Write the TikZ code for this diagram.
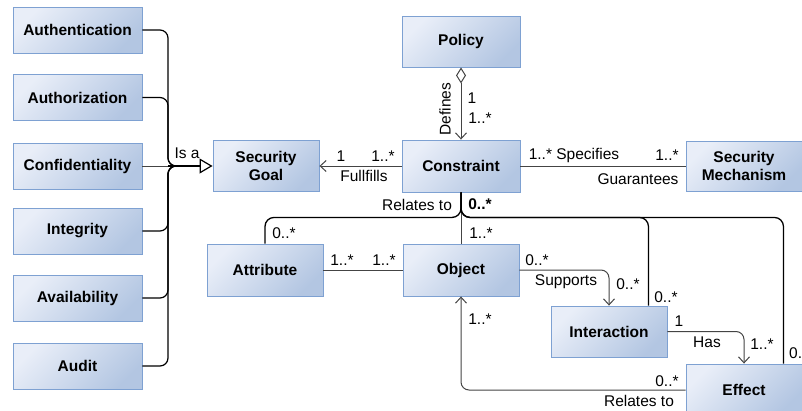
\documentclass[tikz,border=0pt]{standalone}
\usepackage{fontspec}
\setmainfont{Liberation Sans}
\usetikzlibrary{arrows.meta,calc}
\definecolor{bfillA}{HTML}{E9EEF8}
\definecolor{bfillB}{HTML}{B3C6E2}
\definecolor{bdraw}{HTML}{7EA1D2}
\definecolor{lgray}{HTML}{444444}
\begin{document}
\begin{tikzpicture}[x=1pt,y=-1pt,
  box/.style={draw=bdraw,line width=0.9pt,top color=bfillA,bottom color=bfillB,shading angle=45,
    minimum width=116pt,minimum height=51pt,inner sep=0pt,align=center,
    font=\fontsize{15.5}{18}\selectfont\bfseries},
  sbox/.style={box,minimum width=129pt,minimum height=46pt},
  lbl/.style={inner sep=0pt,font=\fontsize{15.5}{18}\selectfont},
  assoc/.style={draw=lgray,line width=1pt,rounded corners=8pt},
  tree/.style={draw=black,line width=1.3pt,rounded corners=9pt},
  gen/.style={draw=black,line width=1.2pt,rounded corners=8pt},
  opentip/.style={-{Straight Barb[length=6pt,width=11pt]}}
]
\useasboundingbox (0,0) rectangle (802,410);
\clip (0,0) rectangle (802,410);

% left column
\node[sbox] (auth)  at (77.5,30)  {Authentication};
\node[sbox] (authz) at (77.5,97.5) {Authorization};
\node[sbox] (conf)  at (77.5,166) {Confidentiality};
\node[sbox] (integ) at (77.5,231) {Integrity};
\node[sbox] (avail) at (77.5,298) {Availability};
\node[sbox] (audit) at (77.5,366) {Audit};

% main boxes
\node[box,minimum width=106pt] (sg) at (266,166) {Security\\Goal};
\node[box,minimum width=118pt] (pol) at (461,41.5) {Policy};
\node[box,minimum width=118pt,minimum height=52pt] (con) at (461,166) {Constraint};
\node[box,minimum height=50pt] (sm) at (744,166) {Security\\Mechanism};
\node[box,minimum height=52pt] (attr) at (265,270) {Attribute};
\node[box,minimum height=52pt] (obj) at (461,270) {Object};
\node[box] (inter) at (609,331.5) {Interaction};
\node[box,minimum height=52pt] (eff) at (744,390) {Effect};

% generalization
\coordinate (bus) at (168,166);
\coordinate (sgin) at (199,166);
\draw[gen] (auth.east) -| (bus) -- (sgin);
\draw[gen] (authz.east) -| (bus) -- (sgin);
\draw[gen] (integ.east) -| (bus) -- (sgin);
\draw[gen] (avail.east) -| (bus) -- (sgin);
\draw[gen] (audit.east) -| (bus) -- (sgin);
\draw[draw=lgray,line width=1pt] (conf.east) -- (bus);
\draw[gen,-{Triangle[open,length=13pt,width=15pt]}] (bus) -- (sg.west);
\node[lbl] (isa) at (187,153) {Is a};

% policy - constraint
\draw[assoc,{Diamond[open,length=16pt,width=10pt]}-{Straight Barb[length=6pt,width=11pt]}] (pol.south) -- (con.north);
\node[lbl,rotate=90] (ldef) at (445,109) {Defines};
\node[lbl] (lp1) at (472,98) {1};
\node[lbl] (lp2) at (480,118) {1..*};

% constraint - security goal
\draw[assoc,opentip] (con.west) -- (sg.east);
\node[lbl] (lg1) at (341,156) {1};
\node[lbl] (lg2) at (383,156) {1..*};
\node[lbl] (lg3) at (364,176) {Fullfills};

% constraint - security mechanism
\draw[assoc] (con.east) -- (sm.west);
\node[lbl] (lm1) at (574,155) {1..* Specifies};
\node[lbl] (lm2) at (667,155) {1..*};
\node[lbl] (lm3) at (638,179) {Guarantees};

% relates-to tree
\draw[assoc] (con.south) -- (obj.north);
\draw[tree] (con.south) -- ++(0,25) -| (attr.north);
\draw[tree] (con.south) -- ++(0,25) -| ([xshift=-19pt]inter.north east);
\draw[tree] (con.south) -- ++(0,25) -| ([xshift=-19pt]eff.north east);
\node[lbl] (lr1) at (417,205) {Relates to};
\node[lbl,font=\fontsize{15.5}{18}\selectfont\bfseries] (lr2) at (480,204) {0..*};
\node[lbl] (lr3) at (284,233) {0..*};
\node[lbl] (lr4) at (481,233) {1..*};
\node[lbl] (lr5) at (666,297) {0..*};
\node[lbl,anchor=west] (lr6) at (789,353) {0..*};

% attribute - object
\draw[assoc] (attr.east) -- (obj.west);
\node[lbl] (la1) at (342,260) {1..*};
\node[lbl] (la2) at (384,260) {1..*};

% object - interaction
\draw[assoc,opentip] (obj.east) -| (inter.north);
\node[lbl] (ls1) at (537,260) {0..*};
\node[lbl] (ls2) at (566,282) {Supports};
\node[lbl] (ls3) at (628,284) {0..*};

% interaction - effect
\draw[assoc,opentip] (inter.east) -| (eff.north);
\node[lbl] (lh1) at (679,321) {1};
\node[lbl] (lh2) at (707,342) {Has};
\node[lbl] (lh3) at (762,344) {1..*};

% effect - object
\draw[assoc,opentip] (eff.west) -| (obj.south);
\node[lbl] (le1) at (667,381) {0..*};
\node[lbl] (le2) at (639,401) {Relates to};
\node[lbl] (le3) at (480,319) {1..*};
\end{tikzpicture}
\end{document}
